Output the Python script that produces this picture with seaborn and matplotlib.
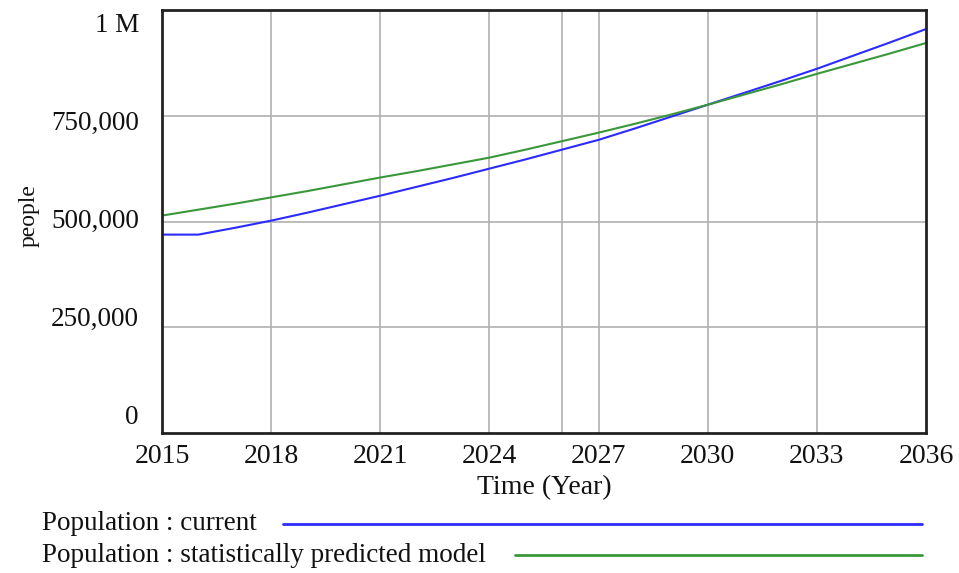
import matplotlib
matplotlib.use("Agg")
import matplotlib.pyplot as plt
from matplotlib.lines import Line2D
from matplotlib.transforms import ScaledTranslation
import seaborn as sns
import pandas as pd

years = list(range(2015, 2037))
current = [469000, 469000, 485000, 502000, 521000, 541000, 561000, 582000,
           603000, 625000, 647000, 670000, 693000, 720000, 748000, 776000,
           804000, 832000, 861000, 892000, 923000, 955000]
predicted = [514000, 528000, 542000, 557000, 572000, 588000, 604000, 619000,
             635000, 651000, 670000, 690000, 710000, 731000, 753000, 776000,
             800000, 824000, 849000, 873000, 897000, 922000]
x_ticks = [2015, 2018, 2021, 2024, 2027, 2030, 2033, 2036]
y_ticks = [0, 250000, 500000, 750000, 1000000]
y_tick_labels = ["0", "250,000", "500,000", "750,000", "1 M"]
series_names = ["Population : current", "Population : statistically predicted model"]
colors = ["#2b2bff", "#3a973a"]

sns.set_theme(style="white")
plt.rcParams["font.family"] = ["Liberation Serif", "DejaVu Serif"]

df = pd.DataFrame({
    "Time": years * 2,
    "people": current + predicted,
    "series": [series_names[0]] * len(years) + [series_names[1]] * len(years),
})

fig = plt.figure(figsize=(9.59, 5.73), dpi=100)
ax = fig.add_axes([162 / 959, 1 - 433 / 573, 764 / 959, 423 / 573])

# grid lines, including the extra marker line at 2026
for xv in x_ticks[1:-1] + [2026]:
    ax.axvline(xv, color="#b0b0b0", lw=1.2, zorder=0)
for yv in y_ticks[1:-1]:
    ax.axhline(yv, color="#b0b0b0", lw=1.2, zorder=0)

sns.lineplot(data=df, x="Time", y="people", hue="series", palette=colors,
             linewidth=1.5, legend=False, ax=ax)

ax.set_xlim(2015, 2036)
ax.set_ylim(0, 1000000)
ax.set_xticks(x_ticks)
ax.set_xticklabels([str(v) for v in x_ticks], fontsize=20, color="#111111")
ax.set_yticks(y_ticks)
ax.tick_params(axis="x", length=0, pad=8)
ax.tick_params(axis="y", length=0, labelleft=False)

# value labels sit evenly spaced inside the axis span
label_shift_px = [-16, -8, 0, 8, 15]
for v, lab, dy in zip(y_ticks, y_tick_labels, label_shift_px):
    off = ScaledTranslation(-23 / 100, -dy / 100, fig.dpi_scale_trans)
    ax.text(0, v, lab, transform=ax.get_yaxis_transform() + off,
            ha="right", va="center", fontsize=19.5, color="#111111")

ax.set_xlabel("Time (Year)", fontsize=20, color="#111111", labelpad=4)
ax.set_ylabel("")
fig.text(29 / 959, 1 - 216 / 573, "people", rotation=90, fontsize=17,
         color="#111111", ha="center", va="center")
for sp in ax.spines.values():
    sp.set_color("#222222")
    sp.set_linewidth(2)

# legend rows below the chart
rows = [(524, 283), (555, 515)]
for (yp, x0), name, col in zip(rows, series_names, colors):
    yf = 1 - yp / 573
    fig.text(42 / 959, yf, name, fontsize=19.5, color="#111111", va="center", ha="left")
    fig.add_artist(Line2D([x0 / 959, 922 / 959], [yf, yf], color=col, lw=2))

fig.savefig("out.png", dpi=100)
